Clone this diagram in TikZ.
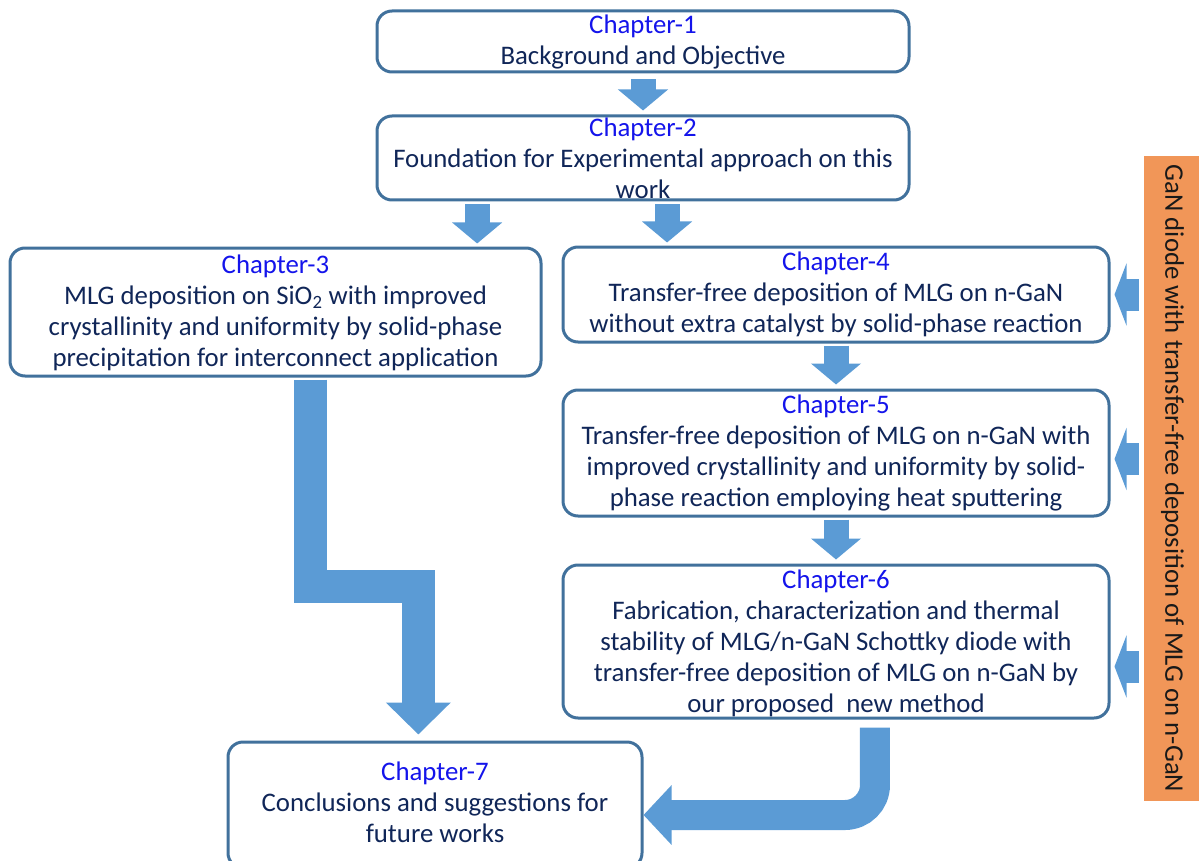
\documentclass[tikz,border=0pt]{standalone}
\usepackage{fontspec}
\setmainfont{Carlito}
\usetikzlibrary{calc,arrows.meta}

\definecolor{boxline}{RGB}{65,113,156}
\definecolor{arrowblue}{RGB}{91,155,213}
\definecolor{chapblue}{RGB}{20,20,235}
\definecolor{navytext}{RGB}{16,38,88}
\definecolor{sideorange}{RGB}{241,150,88}
\newcommand\chaphead[1]{\textcolor{chapblue}{#1}\\}

\begin{document}
\begin{tikzpicture}[x=1pt,y=-1pt,
		chbox/.style={draw=boxline,line width=3pt,rounded corners=15pt,fill=white,inner sep=0pt},
		chtext/.style={align=center,text=navytext,inner sep=0pt,font=\fontsize{26.8}{31}\selectfont},
		blk/.style={draw=arrowblue,line width=25pt,-{Triangle[width=49pt,length=21pt]}},
		sidearr/.style={draw=arrowblue,line width=32pt,-{Triangle[width=62pt,length=12pt]},shorten <=5pt,shorten >=4pt}]
		\useasboundingbox (0,0) rectangle (1199,861);

		% chapter boxes
		\node[chbox,minimum width=532,minimum height=61]  (ch1) at (643,41.5)  {};
		\node[chbox,minimum width=532,minimum height=84]  (ch2) at (643,158)   {};
		\node[chbox,minimum width=531,minimum height=128] (ch3) at (275.5,312) {};
		\node[chbox,minimum width=546,minimum height=95]  (ch4) at (836,294.5) {};
		\node[chbox,minimum width=546,minimum height=126] (ch5) at (836,453)   {};
		\node[chbox,minimum width=546,minimum height=153] (ch6) at (836,641.5) {};
		\node[chbox,minimum width=414,minimum height=126] (ch7) at (435,805)   {};

		\node[chtext] (t1) at ([yshift=-1pt]ch1.center) {\chaphead{Chapter-1}Background and Objective};
		\node[chtext] (t2) at (ch2) {\chaphead{Chapter-2}Foundation for Experimental approach on this\\work};
		\node[chtext] (t3) at ([yshift=-1pt]ch3.center) {\chaphead{Chapter-3}MLG deposition on SiO\textsubscript{2} with improved\\crystallinity and uniformity by solid-phase\\precipitation for interconnect application};
		\node[chtext] (t4) at (ch4) {\chaphead{Chapter-4}Transfer-free deposition of MLG on n-GaN\\without extra catalyst by solid-phase reaction};
		\node[chtext] (t5) at (ch5) {\chaphead{Chapter-5}Transfer-free deposition of MLG on n-GaN with\\improved crystallinity and uniformity by solid-\\phase reaction employing heat sputtering};
		\node[chtext] (t6) at ([yshift=-1.5pt]ch6.center) {\chaphead{Chapter-6}Fabrication, characterization and thermal\\stability of MLG/n-GaN Schottky diode with\\transfer-free deposition of MLG on n-GaN by\\our proposed~ new method};
		\node[chtext] (t7) at ([yshift=3pt]ch7.center) {\chaphead{Chapter-7}Conclusions and suggestions for\\future works};

		% side bar
		\node[fill=sideorange,minimum width=57,minimum height=645,inner sep=0pt] (side) at (1172.5,478.5)
			{\rotatebox{-90}{\fontsize{26.8}{31}\selectfont\color[RGB]{25,25,25}GaN diode with transfer-free deposition of MLG on n-GaN}};

		% straight arrows
		\draw[blk,shorten <=6pt,shorten >=4pt] (ch1.south) -- (ch2.north);
		\coordinate (a23) at ($(ch2.south west)!0.19!(ch2.south east)$);
		\coordinate (a24) at ($(ch2.south west)!0.545!(ch2.south east)$);
		\draw[blk,shorten <=3pt,shorten >=3pt] (a23) -- (a23 |- ch3.north);
		\draw[blk,shorten <=3pt,shorten >=3pt] (a24) -- (a24 |- ch4.north);
		\draw[blk,shorten <=2pt,shorten >=4pt] (ch4.south) -- (ch5.north);
		\draw[blk,shorten <=2pt,shorten >=4pt] (ch5.south) -- (ch6.north);

		% bent arrows into chapter 7
		\coordinate (a37) at ($(ch3.south west)!0.565!(ch3.south east)$);
		\coordinate (b37) at ($(ch7.north west)!0.46!(ch7.north east)$);
		\draw[arrowblue,line width=33pt,line join=miter,-{Triangle[width=63pt,length=32pt]},shorten <=2pt,shorten >=6pt]
			(a37) |- ([yshift=154pt]b37) -- (b37);
		\coordinate (a67) at ($(ch6.south west)!0.571!(ch6.south east)$);
		\draw[arrowblue,line width=30pt,rounded corners=30pt,-{Triangle[width=58pt,length=28pt]},shorten <=8pt]
			(a67) |- ([yshift=-10pt]ch7.east);

		% arrows from the side bar
		\coordinate (c5) at ([yshift=-6pt]ch5.east);
		\coordinate (c6) at ([yshift=-25pt]ch6.east);
		\draw[sidearr] (side.west |- ch4.east) -- (ch4.east);
		\draw[sidearr] (side.west |- c5) -- (c5);
		\draw[sidearr] (side.west |- c6) -- (c6);
	\end{tikzpicture}
\end{document}
